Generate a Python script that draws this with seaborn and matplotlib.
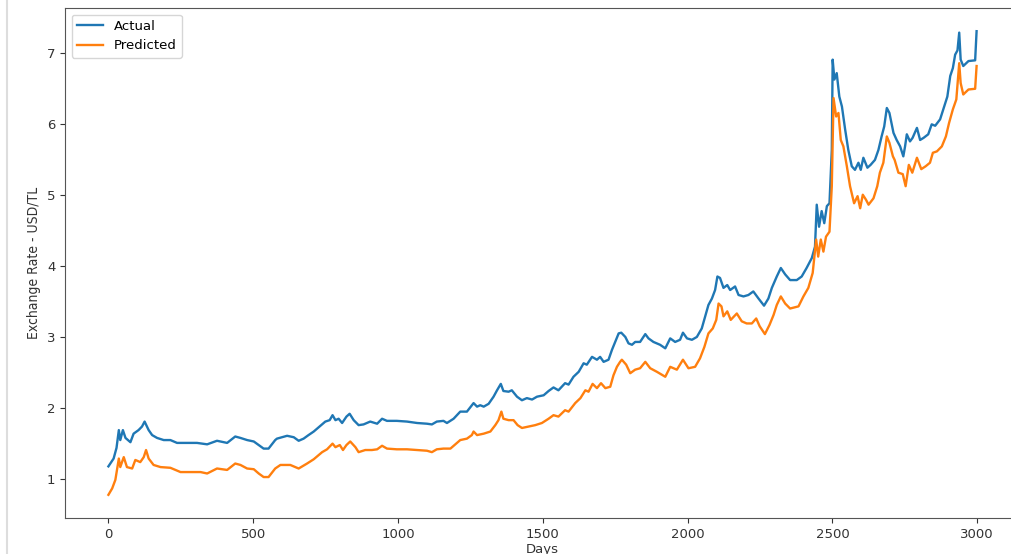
import numpy as np
import seaborn as sns
import matplotlib
matplotlib.use('Agg')
import matplotlib.pyplot as plt
from matplotlib.lines import Line2D

# --- values ---

actual_days = [
    0, 18, 28, 36, 41, 50, 59, 76, 87, 104, 116, 125, 139, 151, 168, 191, 214, 237,
    271, 306, 341, 375, 410, 438, 456, 479, 502, 519, 536, 553, 576, 582, 617, 640,
    657, 674, 691, 709, 732, 749, 764, 774, 784, 795, 807, 822, 833, 847, 864, 881,
    904, 928, 945, 962, 996, 1031, 1066, 1100, 1117, 1134, 1157, 1169, 1192, 1215,
    1238, 1255, 1261, 1273, 1284, 1296, 1313, 1330, 1342, 1355, 1364, 1382, 1393,
    1411, 1428, 1445, 1463, 1480, 1503, 1520, 1537, 1554, 1577, 1589, 1606, 1624,
    1641, 1652, 1670, 1687, 1698, 1710, 1727, 1739, 1750, 1762, 1771, 1785, 1796,
    1808, 1819, 1836, 1854, 1865, 1882, 1905, 1923, 1940, 1957, 1974, 1984, 1998,
    2015, 2032, 2049, 2061, 2072, 2084, 2095, 2103, 2112, 2124, 2137, 2147, 2164,
    2176, 2193, 2210, 2227, 2245, 2264, 2279, 2291, 2308, 2322, 2337, 2354, 2377,
    2394, 2411, 2429, 2440, 2446, 2454, 2463, 2472, 2481, 2490, 2498, 2501, 2507,
    2515, 2524, 2533, 2544, 2555, 2567, 2578, 2590, 2598, 2607, 2621, 2632, 2647,
    2659, 2670, 2679, 2688, 2697, 2711, 2722, 2734, 2745, 2751, 2757, 2768, 2777,
    2792, 2803, 2815, 2831, 2843, 2855, 2872, 2886, 2897, 2907, 2916, 2924, 2932,
    2938, 2943, 2952, 2970, 2993, 2998,
]
actual_rate = [
    1.18, 1.29, 1.44, 1.69, 1.55, 1.69, 1.58, 1.52, 1.64, 1.69, 1.74, 1.81, 1.69,
    1.62, 1.58, 1.55, 1.55, 1.51, 1.51, 1.51, 1.49, 1.54, 1.51, 1.60, 1.58, 1.55,
    1.53, 1.48, 1.43, 1.43, 1.55, 1.57, 1.61, 1.59, 1.54, 1.57, 1.62, 1.67, 1.75,
    1.81, 1.83, 1.90, 1.83, 1.85, 1.79, 1.88, 1.92, 1.83, 1.76, 1.77, 1.81, 1.78,
    1.85, 1.82, 1.82, 1.81, 1.79, 1.78, 1.77, 1.81, 1.82, 1.79, 1.85, 1.95, 1.95,
    2.04, 2.07, 2.02, 2.04, 2.02, 2.06, 2.16, 2.25, 2.34, 2.24, 2.23, 2.25, 2.16,
    2.11, 2.14, 2.12, 2.16, 2.18, 2.24, 2.29, 2.25, 2.35, 2.33, 2.44, 2.51, 2.63,
    2.61, 2.72, 2.68, 2.72, 2.65, 2.68, 2.82, 2.93, 3.05, 3.06, 3.00, 2.91, 2.89,
    2.93, 2.93, 3.04, 2.98, 2.93, 2.89, 2.84, 2.98, 2.93, 2.96, 3.06, 2.98, 2.96,
    3.00, 3.12, 3.29, 3.45, 3.54, 3.66, 3.85, 3.83, 3.69, 3.73, 3.66, 3.71, 3.59,
    3.57, 3.59, 3.64, 3.54, 3.44, 3.54, 3.69, 3.85, 3.97, 3.88, 3.80, 3.80, 3.85,
    3.97, 4.11, 4.27, 4.86, 4.55, 4.77, 4.60, 4.84, 4.88, 5.63, 6.90, 6.62, 6.71,
    6.38, 6.24, 5.92, 5.63, 5.40, 5.35, 5.45, 5.35, 5.52, 5.38, 5.42, 5.49, 5.63,
    5.82, 5.96, 6.22, 6.15, 5.87, 5.77, 5.68, 5.54, 5.68, 5.85, 5.75, 5.80, 5.94,
    5.77, 5.80, 5.85, 5.99, 5.97, 6.06, 6.24, 6.38, 6.67, 6.78, 6.97, 7.03, 7.28,
    6.90, 6.81, 6.88, 6.89, 7.30,
]

predicted_days = [
    0, 13, 24, 36, 41, 53, 64, 82, 93, 110, 122, 130, 139, 156, 180, 214, 249, 283,
    318, 341, 375, 410, 438, 456, 479, 502, 519, 536, 553, 576, 594, 628, 657, 686,
    709, 738, 755, 774, 784, 799, 810, 822, 835, 853, 864, 887, 910, 928, 945, 962,
    996, 1031, 1066, 1100, 1117, 1134, 1157, 1181, 1215, 1238, 1255, 1261, 1273,
    1296, 1319, 1336, 1347, 1357, 1364, 1382, 1399, 1413, 1428, 1451, 1474, 1497,
    1520, 1537, 1554, 1577, 1589, 1612, 1630, 1647, 1658, 1672, 1687, 1701, 1716,
    1733, 1744, 1756, 1767, 1773, 1788, 1802, 1819, 1836, 1854, 1871, 1894, 1923,
    1940, 1963, 1984, 2003, 2026, 2043, 2058, 2072, 2087, 2099, 2107, 2117, 2124,
    2137, 2149, 2170, 2187, 2204, 2222, 2237, 2249, 2267, 2283, 2297, 2308, 2322,
    2337, 2354, 2383, 2400, 2417, 2432, 2444, 2451, 2460, 2469, 2478, 2490, 2498,
    2504, 2513, 2521, 2529, 2538, 2550, 2561, 2575, 2587, 2596, 2605, 2616, 2625,
    2642, 2655, 2664, 2676, 2688, 2697, 2709, 2715, 2728, 2743, 2753, 2764, 2776,
    2792, 2807, 2822, 2837, 2847, 2861, 2878, 2892, 2903, 2916, 2928, 2938, 2943,
    2952, 2970, 2993, 2998,
]
predicted_rate = [
    0.78, 0.87, 0.99, 1.29, 1.17, 1.31, 1.17, 1.15, 1.27, 1.24, 1.31, 1.41, 1.29,
    1.20, 1.17, 1.16, 1.10, 1.10, 1.10, 1.08, 1.15, 1.13, 1.22, 1.20, 1.15, 1.14,
    1.08, 1.03, 1.03, 1.15, 1.20, 1.20, 1.15, 1.22, 1.28, 1.38, 1.42, 1.50, 1.45,
    1.48, 1.41, 1.48, 1.53, 1.45, 1.38, 1.41, 1.41, 1.42, 1.47, 1.43, 1.42, 1.42,
    1.41, 1.40, 1.38, 1.42, 1.43, 1.43, 1.55, 1.57, 1.62, 1.67, 1.62, 1.64, 1.67,
    1.76, 1.83, 1.95, 1.85, 1.83, 1.83, 1.76, 1.72, 1.74, 1.76, 1.79, 1.85, 1.90,
    1.88, 1.97, 1.95, 2.07, 2.14, 2.25, 2.23, 2.34, 2.28, 2.35, 2.28, 2.30, 2.46,
    2.58, 2.65, 2.68, 2.61, 2.49, 2.54, 2.56, 2.65, 2.56, 2.51, 2.44, 2.58, 2.54,
    2.68, 2.56, 2.58, 2.70, 2.86, 3.05, 3.12, 3.24, 3.47, 3.43, 3.29, 3.36, 3.24,
    3.33, 3.22, 3.19, 3.19, 3.26, 3.15, 3.04, 3.17, 3.31, 3.45, 3.57, 3.47, 3.40,
    3.43, 3.57, 3.69, 3.90, 4.37, 4.13, 4.37, 4.20, 4.41, 4.48, 5.12, 6.36, 6.10,
    6.15, 5.77, 5.68, 5.40, 5.12, 4.88, 4.98, 4.81, 5.00, 4.93, 4.86, 4.95, 5.12,
    5.31, 5.45, 5.82, 5.73, 5.54, 5.49, 5.31, 5.29, 5.12, 5.42, 5.31, 5.52, 5.36,
    5.40, 5.45, 5.59, 5.61, 5.68, 5.82, 6.01, 6.20, 6.34, 6.85, 6.57, 6.41, 6.48,
    6.49, 6.81,
]

series_labels = ["Actual", "Predicted"]
x_label = "Days"
y_label = "Exchange Rate - USD/TL"


def main():
    fig = plt.figure(figsize=(10.11, 5.54), dpi=100)
    # axes run past the right edge, as in the cropped screenshot
    ax = fig.add_axes([65 / 1011, 36 / 554, 955 / 1011, 510 / 554])

    sns.lineplot(x=actual_days, y=actual_rate, ax=ax, color="#1f77b4",
                 linewidth=1.7, label=series_labels[0])
    sns.lineplot(x=predicted_days, y=predicted_rate, ax=ax, color="#ff7f0e",
                 linewidth=1.7, label=series_labels[1])

    ax.set_xticks([0, 500, 1000, 1500, 2000, 2500, 3000])
    ax.set_yticks([1, 2, 3, 4, 5, 6, 7])
    ax.tick_params(labelsize=9.5, colors="#333333")
    for side in ax.spines.values():
        side.set_color("#555555")
    # the right edge of the frame is cut off in the reference
    ax.spines["right"].set_visible(False)

    ax.set_xlabel(x_label, fontsize=9.5, color="#333333", labelpad=2)
    ax.set_ylabel(y_label, fontsize=10, color="#333333",
                  family="DejaVu Sans", fontstretch="condensed")

    ax.legend(loc="upper left", fontsize=9.5)

    # thin grey border of the screenshot on the left
    fig.add_artist(Line2D([7 / 1011, 7 / 1011], [0, 1], color="#dddddd",
                          linewidth=1.5, transform=fig.transFigure))

    fig.savefig("out.png", dpi=100)


if __name__ == "__main__":
    main()
